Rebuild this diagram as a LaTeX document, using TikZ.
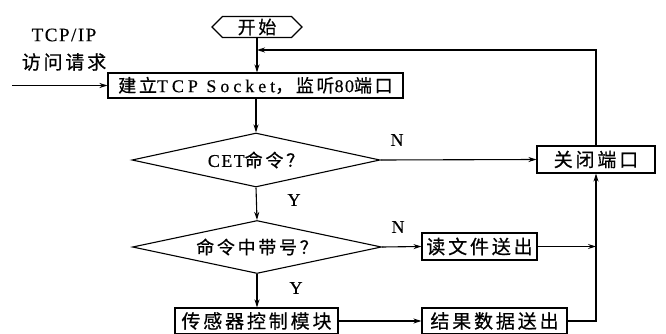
\documentclass[tikz,border=0pt]{standalone}
\usepackage{fontspec}
\setmainfont{Liberation Serif}[LetterSpace=8,FakeBold=0.4]
\newfontfamily\cjk[LetterSpace=15,FakeBold=0.6]{Noto Sans CJK SC}
\newfontfamily\serwide[LetterSpace=22,FakeBold=0.4]{Liberation Serif}
\usetikzlibrary{shapes.geometric,shapes.symbols,arrows.meta}
\begin{document}
\begin{tikzpicture}[x=1pt,y=-1pt,
  line width=1.1pt,
  arr/.style={-{Stealth[length=8pt,width=5pt]}},
  box/.style={draw, rectangle, inner sep=1pt, font=\fontsize{19}{21}\selectfont\cjk},
  dia/.style={draw, diamond, inner sep=0pt, font=\fontsize{18}{20}\selectfont},
  lab/.style={font=\fontsize{18}{20}\selectfont}
]
\useasboundingbox (0,0) rectangle (666,334);
% nodes
\node[draw, signal, signal to=west and east, minimum width=90pt, minimum height=21pt, inner sep=0pt,
      font=\fontsize{18}{20}\selectfont\cjk] (start) at (257,27) {开始};
\node[box, minimum width=295pt, minimum height=25pt, font=\fontsize{18}{20}\selectfont] (b1) at (255.5,85.5)
  {{\cjk 建立}{\serwide TCP Socket}{\cjk ，监听}80{\cjk 端口}};
\node[dia, aspect=4.6, minimum width=248pt, minimum height=54pt] (d1) at (256,160) {CET{\cjk 命令？}};
\node[dia, aspect=4.7, minimum width=249pt, minimum height=53pt] (d2) at (257,247) {\cjk 命令中带号？};
\node[box, minimum width=118pt, minimum height=27pt] (close) at (596,159.5) {关闭端口};
\node[box, minimum width=115pt, minimum height=27pt] (read) at (479.5,246.5) {读文件送出};
\node[box, minimum width=163pt, minimum height=26pt] (sensor) at (256.5,321) {传感器控制模块};
\node[box, minimum width=145pt, minimum height=26pt] (result) at (494.5,321) {结果数据送出};
% labels
\node[lab, font=\fontsize{19}{21}\selectfont] (tcp) at (64,35) {TCP/IP};
\node[lab, font=\fontsize{19}{21}\selectfont\cjk] (req) at (64,62) {访问请求};
\node[lab] (n1) at (397,140) {N};
\node[lab] (y1) at (294,200) {Y};
\node[lab] (n2) at (398,227) {N};
\node[lab] (y2) at (296,288) {Y};
% coordinates
\coordinate (in) at (12,85.5);
\coordinate (join) at (257,50);
% connectors
\draw[arr] (in) -- (b1.west);
\draw[arr] (start.south) -- (start.south |- b1.north);
\draw[arr] (close.north) |- (join);
\draw[arr] (b1.south -| d1.north) -- (d1.north);
\draw[arr] (d1.east) -- (close.west);
\draw[arr] (d1.south) -- (d2.north);
\draw[arr] (d2.east) -- (read.west);
\draw[arr] (d2.south) -- (d2.south |- sensor.north);
\draw[arr] (sensor.east) -- (result.west);
\draw[arr] (read.east) -- (read.east -| close.south);
\draw[arr] (result.east) -| (close.south);
\end{tikzpicture}
\end{document}
